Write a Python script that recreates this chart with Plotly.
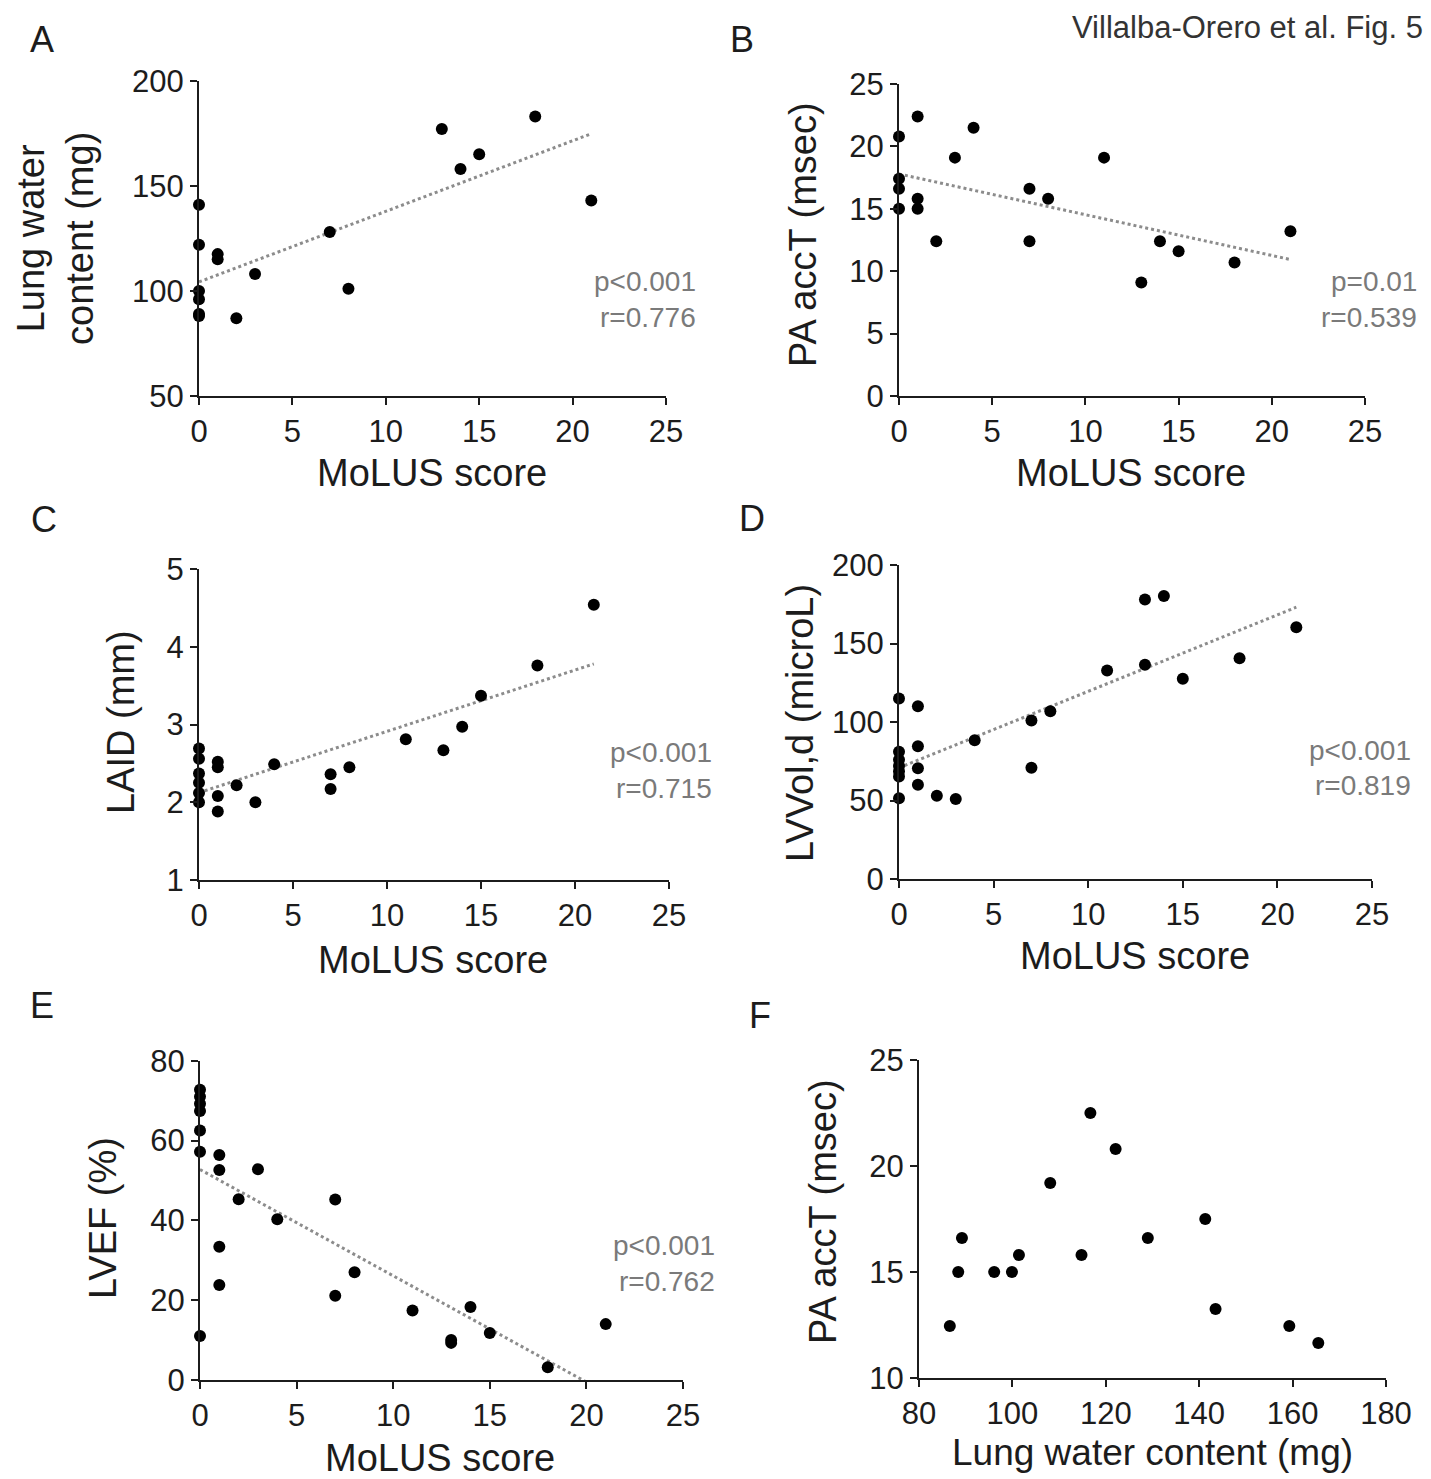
import numpy as np
import plotly.graph_objects as go

# page is 1431x1479; the html body adds an 8px margin, so the figure is placed at (8, 8)
PAGE_W, PAGE_H = 1431, 1479
OFF = 8
W, H = PAGE_W - OFF, PAGE_H - OFF

# ---------------- data ----------------
# A: Lung water content (mg) vs MoLUS score
a_molus = [0, 0, 0, 0, 0, 0, 1, 1, 2, 3, 7, 8, 13, 14, 15, 18, 21]
a_lwc = [141, 122, 100, 96, 89, 88, 117.5, 115, 87, 108, 128, 101, 177, 158, 165, 183, 143]

# B: PA accT (msec) vs MoLUS score
b_molus = [0, 0, 0, 0, 1, 1, 1, 2, 3, 4, 7, 7, 8, 11, 13, 14, 15, 18, 21]
b_accT = [20.8, 17.4, 16.6, 15.0, 22.4, 15.8, 15.0, 12.4, 19.1, 21.5, 16.6, 12.4, 15.8, 19.1, 9.1, 12.4, 11.6, 10.7, 13.2]

# C: LAID (mm) vs MoLUS score
c_molus = [0, 0, 0, 0, 0, 0, 1, 1, 1, 1, 2, 3, 4, 7, 7, 8, 11, 13, 14, 15, 18, 21]
c_laid = [2.69, 2.56, 2.37, 2.25, 2.12, 2.0, 2.52, 2.45, 2.08, 1.88, 2.22, 2.0, 2.49,
          2.36, 2.17, 2.45, 2.81, 2.67, 2.97, 3.37, 3.76, 4.54]

# D: LVVol,d (microL) vs MoLUS score
d_molus = [0, 0, 0, 0, 0, 0, 0, 1, 1, 1, 1, 2, 3, 4, 7, 7, 8, 11, 13, 13, 14, 15, 18, 21]
d_lvvol = [115, 81, 76, 72, 68.6, 65.3, 51.5, 110, 84.5, 70.6, 60, 53, 51, 88.4,
           101, 70.8, 106.8, 132.8, 178, 136.4, 180.3, 127.5, 140.6, 160.3]

# E: LVEF (%) vs MoLUS score
e_molus = [0, 0, 0, 0, 0, 0, 0, 1, 1, 1, 1, 2, 3, 4, 7, 7, 8, 11, 13, 13, 14, 15, 18, 21]
e_lvef = [72.7, 71.0, 69.2, 67.4, 62.5, 57.2, 11.0, 56.4, 52.6, 33.4, 23.8, 45.3, 52.8, 40.3,
          45.2, 21.1, 27.0, 17.4, 10.0, 9.3, 18.3, 11.8, 3.2, 14.0]

# F: PA accT (msec) vs Lung water content (mg)
f_lwc = [86.6, 88.4, 89.2, 96.1, 99.9, 101.4, 108.1, 114.8, 116.7, 122.1, 129.0, 141.3, 143.5, 159.3, 165.5]
f_accT = [12.45, 15.0, 16.6, 15.0, 15.0, 15.8, 19.2, 15.8, 22.5, 20.8, 16.6, 17.5, 13.25, 12.45, 11.65]

# tick values
molus_ticks = [0, 5, 10, 15, 20, 25]
a_yticks = [50, 100, 150, 200]
b_yticks = [0, 5, 10, 15, 20, 25]
c_yticks = [1, 2, 3, 4, 5]
d_yticks = [0, 50, 100, 150, 200]
e_yticks = [0, 20, 40, 60, 80]
f_xticks = [80, 100, 120, 140, 160, 180]
f_yticks = [10, 15, 20, 25]

# statistics text
a_stats = ["p<0.001", "r=0.776"]
b_stats = ["p=0.01", "r=0.539"]
c_stats = ["p<0.001", "r=0.715"]
d_stats = ["p<0.001", "r=0.819"]
e_stats = ["p<0.001", "r=0.762"]

# ---------------- layout helpers ----------------
FONT = "Liberation Sans, Arial, sans-serif"
INK = "#1c1c1c"
GREY = "#7a7a7a"


def px_x(v):
    return (v - OFF) / W


def px_y(v):
    return 1 - (v - OFF) / H


panels = [
    dict(x=a_molus, y=a_lwc, xt=molus_ticks, yt=a_yticks, box=(199, 666, 80.7, 396), fit=True,
         stats=a_stats, stats_pos=(698, 282, 318),
         ytitle="Lung water<br>content (mg)", ytpos=(56, 238), xtitle="MoLUS score", xtpos=(432, 473),
         letter="A", lpos=(42, 40)),
    dict(x=b_molus, y=b_accT, xt=molus_ticks, yt=b_yticks, box=(899, 1365, 84, 396), fit=True,
         stats=b_stats, stats_pos=(1419, 282, 318),
         ytitle="PA accT (msec)", ytpos=(803, 235), xtitle="MoLUS score", xtpos=(1131, 473),
         letter="B", lpos=(742, 40)),
    dict(x=c_molus, y=c_laid, xt=molus_ticks, yt=c_yticks, box=(199, 669, 569, 880), fit=True,
         stats=c_stats, stats_pos=(714, 752, 788),
         ytitle="LAID (mm)", ytpos=(121, 722), xtitle="MoLUS score", xtpos=(433, 960),
         letter="C", lpos=(44, 520)),
    dict(x=d_molus, y=d_lvvol, xt=molus_ticks, yt=d_yticks, box=(899, 1372, 565, 879), fit=True,
         stats=d_stats, stats_pos=(1413, 750, 786),
         ytitle="LVVol,d (microL)", ytpos=(800, 723), xtitle="MoLUS score", xtpos=(1135, 956),
         letter="D", lpos=(752, 518)),
    dict(x=e_molus, y=e_lvef, xt=molus_ticks, yt=e_yticks, box=(200, 683, 1060.7, 1380), fit=True,
         stats=e_stats, stats_pos=(717, 1245, 1281),
         ytitle="LVEF (%)", ytpos=(103, 1218), xtitle="MoLUS score", xtpos=(440, 1458),
         letter="E", lpos=(42, 1005)),
    dict(x=f_lwc, y=f_accT, xt=f_xticks, yt=f_yticks, box=(919, 1386, 1060, 1378), fit=False,
         stats=None, stats_pos=None,
         ytitle="PA accT (msec)", ytpos=(823, 1212), xtitle="Lung water content (mg)", xtpos=(1152, 1452),
         letter="F", lpos=(760, 1015)),
]

fig = go.Figure()
annotations = []
layout_axes = {}

for i, p in enumerate(panels, start=1):
    xa = "x" if i == 1 else f"x{i}"
    ya = "y" if i == 1 else f"y{i}"
    xkey = "xaxis" if i == 1 else f"xaxis{i}"
    ykey = "yaxis" if i == 1 else f"yaxis{i}"
    x0, x1, ytop, ybot = p["box"]

    if p["fit"]:
        slope, icpt = np.polyfit(np.array(p["x"], float), np.array(p["y"], float), 1)
        fx = np.array([min(p["x"]), max(p["x"])], float)
        fig.add_trace(go.Scatter(x=fx, y=slope * fx + icpt, mode="lines", xaxis=xa, yaxis=ya,
                                 line=dict(color="#8c8c8c", width=3, dash="dot"),
                                 showlegend=False, hoverinfo="skip", cliponaxis=True))

    fig.add_trace(go.Scatter(x=p["x"], y=p["y"], mode="markers", xaxis=xa, yaxis=ya,
                             marker=dict(color="#000000", size=12, line=dict(width=0)),
                             showlegend=False, cliponaxis=False))

    common = dict(showline=True, linecolor=INK, linewidth=2, ticks="outside", ticklen=7,
                  tickwidth=2, tickcolor=INK, showgrid=False, zeroline=False, automargin=False,
                  tickfont=dict(family=FONT, size=31, color=INK), fixedrange=True)
    layout_axes[xkey] = dict(common, domain=[px_x(x0), px_x(x1)], anchor=ya,
                             range=[p["xt"][0], p["xt"][-1]], tickvals=p["xt"])
    layout_axes[ykey] = dict(common, domain=[px_y(ybot), px_y(ytop)], anchor=xa,
                             range=[p["yt"][0], p["yt"][-1]], tickvals=p["yt"])

    annotations.append(dict(text=p["ytitle"], x=px_x(p["ytpos"][0]), y=px_y(p["ytpos"][1]),
                            xref="paper", yref="paper", showarrow=False, textangle=-90,
                            xanchor="center", yanchor="middle",
                            font=dict(family=FONT, size=38, color=INK)))
    annotations.append(dict(text=p["xtitle"], x=px_x(p["xtpos"][0]), y=px_y(p["xtpos"][1]),
                            xref="paper", yref="paper", showarrow=False,
                            xanchor="center", yanchor="middle",
                            font=dict(family=FONT, size=37 if i == 6 else 38, color=INK)))
    annotations.append(dict(text=p["letter"], x=px_x(p["lpos"][0]), y=px_y(p["lpos"][1]),
                            xref="paper", yref="paper", showarrow=False,
                            xanchor="center", yanchor="middle",
                            font=dict(family=FONT, size=36, color=INK)))
    if p["stats"]:
        sx, sy1, sy2 = p["stats_pos"]
        for txt, sy in zip(p["stats"], (sy1, sy2)):
            annotations.append(dict(text=txt, x=px_x(sx), y=px_y(sy), xref="paper", yref="paper",
                                    showarrow=False, xanchor="right", yanchor="middle",
                                    font=dict(family=FONT, size=28, color=GREY)))

annotations.append(dict(text="Villalba-Orero et al. Fig. 5", x=px_x(1425), y=px_y(28),
                        xref="paper", yref="paper", showarrow=False, xanchor="right", yanchor="middle",
                        font=dict(family=FONT, size=31, color="#333333")))

fig.update_layout(width=W, height=H, autosize=False, margin=dict(l=0, r=0, t=0, b=0),
                  paper_bgcolor="white", plot_bgcolor="white", annotations=annotations,
                  showlegend=False, **layout_axes)

fig.write_html("out.html")
